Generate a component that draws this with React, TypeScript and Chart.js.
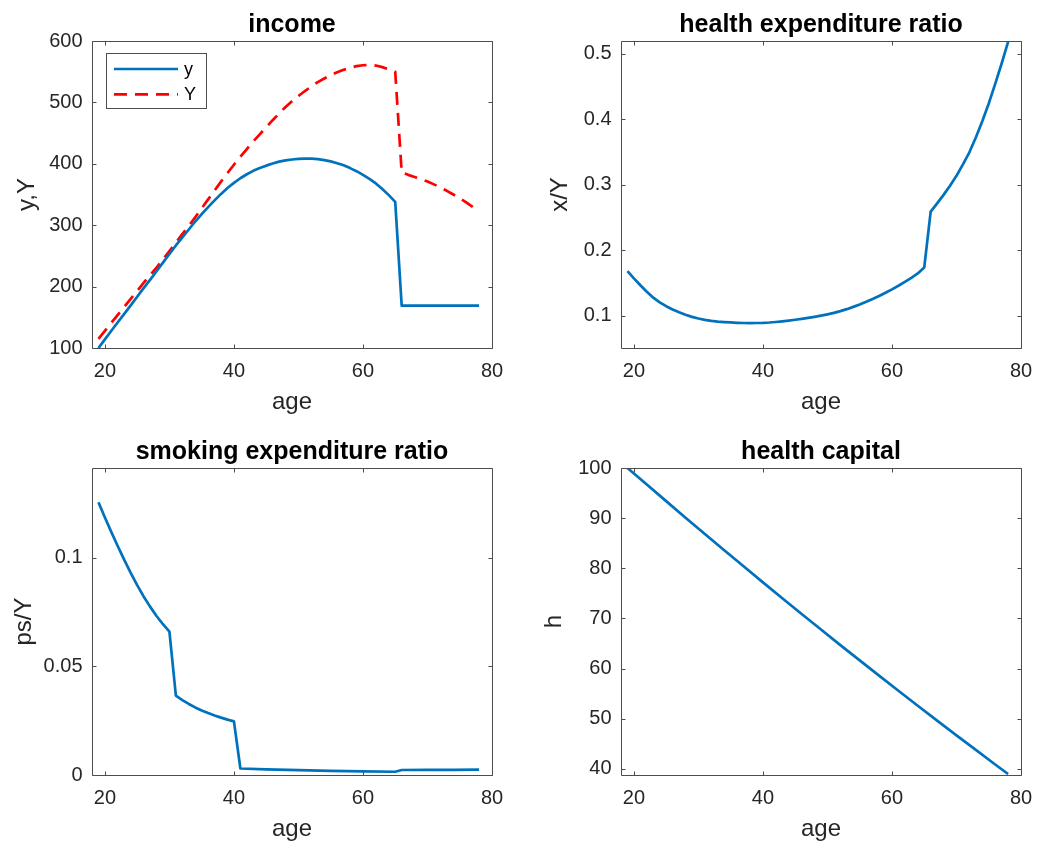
import React, { useEffect, useRef } from 'react';
import { Chart, registerables } from 'chart.js';

Chart.register(...registerables);

// ---------- data ----------
const xTicks = [20, 40, 60, 80];

const yearAges = [
  19, 20, 21, 22, 23, 24, 25, 26, 27, 28, 29, 30, 31, 32, 33, 34, 35, 36, 37, 38,
  39, 40, 41, 42, 43, 44, 45, 46, 47, 48, 49, 50, 51, 52, 53, 54, 55, 56, 57, 58,
  59, 60, 61, 62, 63, 64, 65, 66, 67, 68, 69, 70, 71, 72, 73, 74, 75, 76, 77, 78,
];

const incomeSmallY = [
  100, 114, 128, 142, 155.5, 169.5, 183.5, 197.5, 211, 225, 239, 253, 267, 280, 293, 306, 318, 329.5, 340.5, 351,
  360.5, 369, 376.5, 383, 388.5, 393, 397, 400.5, 403.5, 405.5, 407, 408, 408.5, 408.3, 407.5, 406, 404, 401, 397.5, 393,
  388, 382, 375.5, 368, 359, 349, 338, 169, 169, 169, 169, 169, 169, 169, 169, 169, 169, 169, 169, 169,
];
const incomeBigY = [
  115, 128, 141, 154, 167, 180, 193, 206, 218.5, 231, 244.5, 258, 271.5, 285.5, 299, 313, 327.5, 342, 356.5, 371,
  385, 398.5, 411.5, 424, 436.5, 448, 459.5, 471, 482, 492.5, 502, 510.5, 518.5, 526, 533, 539, 544.5, 549, 553, 556.5,
  559, 560.5, 561, 560, 557.5, 554, 550, 386, 382, 378.5, 375, 371, 366.5, 361.5, 356, 350, 344, 337, 330, 322,
];
const incomeYTicks = [100, 200, 300, 400, 500, 600];

const healthRatio = [
  0.168, 0.157, 0.1465, 0.1365, 0.1275, 0.1205, 0.1145, 0.1095, 0.1052, 0.1014, 0.0982, 0.0957, 0.0937, 0.0922, 0.0911, 0.0903, 0.0897, 0.0892, 0.0889, 0.0888,
  0.0889, 0.0891, 0.0896, 0.0904, 0.0914, 0.0925, 0.0938, 0.0952, 0.0967, 0.0983, 0.1001, 0.1021, 0.1043, 0.107, 0.11, 0.1135, 0.1172, 0.1212, 0.1255, 0.1301,
  0.135, 0.1402, 0.1457, 0.1516, 0.1579, 0.1646, 0.1735, 0.259, 0.2715, 0.2845, 0.2985, 0.3135, 0.331, 0.3495, 0.372, 0.397, 0.424, 0.454, 0.485, 0.518,
];
const healthYTicks = [0.1, 0.2, 0.3, 0.4, 0.5];

const smokeAges = [
  19, 20, 21, 22, 23, 24, 25, 26, 27, 28, 29, 30, 31, 32, 33, 34, 35, 36, 37, 38, 39, 40, 41,
  45, 50, 55, 60, 65, 66, 70, 74, 78,
];
const smokeRatio = [
  0.1255, 0.1185, 0.1118, 0.1053, 0.099, 0.093, 0.0874, 0.0822, 0.0775, 0.0732, 0.0694, 0.066,
  0.0365, 0.0345, 0.0327, 0.0311, 0.0297, 0.0285, 0.0274, 0.0264, 0.0255, 0.0247, 0.003,
  0.0026, 0.0022, 0.0019, 0.0017, 0.0015, 0.0023, 0.0024, 0.0024, 0.0025,
];
const smokeYTicks = [0, 0.05, 0.1];

const capitalAges = [19, 22, 25, 28, 31, 34, 37, 40, 43, 46, 49, 52, 55, 58, 61, 64, 67, 70, 73, 76, 78];
const capitalH = [100, 96.7, 93.4, 90.1, 86.85, 83.6, 80.4, 77.2, 74.05, 70.9, 67.8, 64.7, 61.65, 58.6, 55.6, 52.6, 49.65, 46.7, 43.8, 40.9, 39.0];
const capitalYTicks = [40, 50, 60, 70, 80, 90, 100];

// ---------- style ----------
const FONT = '"Liberation Sans", Arial, Helvetica, sans-serif';
const BLUE = '#0072BD';
const RED = '#FF0000';
const AXIS = '#262626';
const FRAME = '#4d4d4d';
const LW = 2.7;

const pts = (xs: number[], ys: number[]) => xs.map((x, i) => ({ x, y: ys[i] }));

function makeFramePlugin(showLegend: boolean) {
  return {
    id: 'matlabFrame',
    afterDatasetsDraw(chart: any) {
      const { ctx, chartArea: a, scales } = chart;
      const xs = scales.x;
      const ys = scales.y;
      const L = Math.round(a.left) + 0.5;
      const R = Math.round(a.right) + 0.5;
      const T = Math.round(a.top) + 0.5;
      const B = Math.round(a.bottom) + 0.5;
      const tl = 4;
      ctx.save();
      ctx.strokeStyle = FRAME;
      ctx.lineWidth = 1;
      ctx.setLineDash([]);
      ctx.beginPath();
      ctx.rect(L, T, R - L, B - T);
      xs.ticks.forEach((t: any) => {
        const p = Math.round(xs.getPixelForValue(t.value)) + 0.5;
        ctx.moveTo(p, B);
        ctx.lineTo(p, B - tl);
        ctx.moveTo(p, T);
        ctx.lineTo(p, T + tl);
      });
      ys.ticks.forEach((t: any) => {
        const p = Math.round(ys.getPixelForValue(t.value)) + 0.5;
        ctx.moveTo(L, p);
        ctx.lineTo(L + tl, p);
        ctx.moveTo(R, p);
        ctx.lineTo(R - tl, p);
      });
      ctx.stroke();

      if (showLegend) {
        const bx = Math.round(a.left) + 14.5;
        const by = Math.round(a.top) + 12.5;
        const bw = 100;
        const bh = 55;
        ctx.fillStyle = '#ffffff';
        ctx.fillRect(bx, by, bw, bh);
        ctx.strokeStyle = FRAME;
        ctx.lineWidth = 1;
        ctx.strokeRect(bx, by, bw, bh);
        chart.data.datasets.forEach((ds: any, i: number) => {
          const ly = a.top + 28 + i * 25.3;
          ctx.beginPath();
          ctx.strokeStyle = ds.borderColor;
          ctx.lineWidth = ds.borderWidth;
          ctx.setLineDash(ds.borderDash || []);
          ctx.moveTo(a.left + 22, ly);
          ctx.lineTo(a.left + 86, ly);
          ctx.stroke();
          ctx.setLineDash([]);
          ctx.fillStyle = '#000000';
          ctx.font = `18px ${FONT}`;
          ctx.textAlign = 'left';
          ctx.textBaseline = 'middle';
          ctx.fillText(ds.label, a.left + 92, ly + 1);
        });
      }
      ctx.restore();
    },
  };
}

type PanelProps = {
  left: number;
  top: number;
  title: string;
  yLabel: string;
  yMin: number;
  yMax: number;
  yTicks: number[];
  yTitlePad: number;
  datasets: any[];
  legend?: boolean;
};

function Panel(p: PanelProps) {
  const ref = useRef<HTMLCanvasElement>(null);
  useEffect(() => {
    const chart = new Chart(ref.current as HTMLCanvasElement, {
      type: 'line',
      data: { datasets: p.datasets },
      plugins: [makeFramePlugin(!!p.legend)],
      options: {
        animation: false,
        responsive: false,
        maintainAspectRatio: false,
        layout: { padding: { left: 0, top: 0, right: 28, bottom: 0 } },
        elements: { point: { radius: 0 }, line: { tension: 0 } },
        plugins: {
          legend: { display: false },
          tooltip: { enabled: false },
          title: {
            display: true,
            text: p.title,
            fullSize: false,
            color: '#000000',
            font: { family: FONT, size: 25, weight: 'bold', lineHeight: 1.2 },
            padding: { top: 10.4, bottom: 0.6 },
          },
        },
        scales: {
          x: {
            type: 'linear',
            min: 18,
            max: 80,
            afterBuildTicks: (s: any) => {
              s.ticks = xTicks.map((v) => ({ value: v }));
            },
            afterFit: (s: any) => {
              s.height = 76;
            },
            grid: { display: false, drawTicks: false },
            border: { display: false },
            ticks: {
              autoSkip: false,
              maxRotation: 0,
              padding: 11.5,
              color: AXIS,
              font: { family: FONT, size: 20 },
              callback: (v: any) => String(v),
            },
            title: {
              display: true,
              text: 'age',
              color: AXIS,
              font: { family: FONT, size: 24, lineHeight: 1.2 },
              padding: { top: 0, bottom: 7 },
            },
          },
          y: {
            type: 'linear',
            min: p.yMin,
            max: p.yMax,
            afterBuildTicks: (s: any) => {
              s.ticks = p.yTicks.map((v) => ({ value: v }));
            },
            afterFit: (s: any) => {
              s.width = 92;
            },
            grid: { display: false, drawTicks: false },
            border: { display: false },
            ticks: {
              autoSkip: false,
              padding: 9.5,
              color: AXIS,
              font: { family: FONT, size: 20 },
              callback: (v: any) => String(+Number(v).toPrecision(6)),
            },
            title: {
              display: true,
              text: p.yLabel,
              color: AXIS,
              font: { family: FONT, size: 24, lineHeight: 1.2 },
              padding: { top: p.yTitlePad, bottom: 0 },
            },
          },
        },
      } as any,
    } as any);
    return () => chart.destroy();
  }, []);
  return (
    <canvas
      ref={ref}
      width={520}
      height={424}
      style={{ position: 'absolute', left: p.left, top: p.top, width: 520, height: 424 }}
    />
  );
}

const lineDs = (label: string, data: any[], color: string, dash?: number[]) => ({
  label,
  data,
  borderColor: color,
  backgroundColor: color,
  borderWidth: LW,
  borderDash: dash || [],
  borderJoinStyle: 'round',
  pointRadius: 0,
  fill: false,
});

export default function App() {
  return (
    <div
      style={{
        position: 'absolute',
        left: 0,
        top: 0,
        width: 1039,
        height: 848,
        overflow: 'hidden',
        background: '#ffffff',
      }}
    >
      <Panel
        left={0}
        top={0}
        title="income"
        yLabel="y,Y"
        yMin={100}
        yMax={600}
        yTicks={incomeYTicks}
        yTitlePad={13.2}
        legend
        datasets={[
          lineDs('y', pts(yearAges, incomeSmallY), BLUE),
          lineDs('Y', pts(yearAges, incomeBigY), RED, [13, 8]),
        ]}
      />
      <Panel
        left={529}
        top={0}
        title="health expenditure ratio"
        yLabel="x/Y"
        yMin={0.0507}
        yMax={0.5194}
        yTicks={healthYTicks}
        yTitlePad={17.3}
        datasets={[lineDs('x/Y', pts(yearAges, healthRatio), BLUE)]}
      />
      <Panel
        left={0}
        top={427}
        title="smoking expenditure ratio"
        yLabel="ps/Y"
        yMin={0}
        yMax={0.1413}
        yTicks={smokeYTicks}
        yTitlePad={9.5}
        datasets={[lineDs('ps/Y', pts(smokeAges, smokeRatio), BLUE)]}
      />
      <Panel
        left={529}
        top={427}
        title="health capital"
        yLabel="h"
        yMin={38.8}
        yMax={100}
        yTicks={capitalYTicks}
        yTitlePad={10.8}
        datasets={[lineDs('h', pts(capitalAges, capitalH), BLUE)]}
      />
    </div>
  );
}
